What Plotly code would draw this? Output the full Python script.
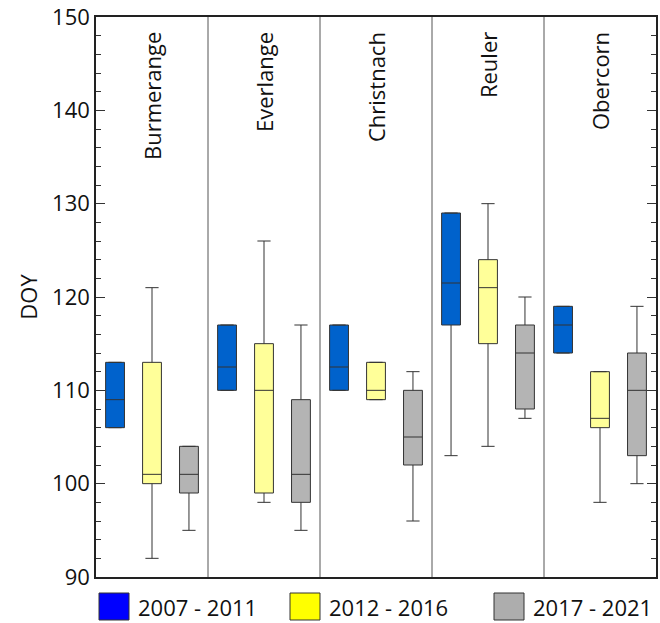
import plotly.graph_objects as go

# ---- data ----
sites = ["Burmerange", "Everlange", "Christnach", "Reuler", "Obercorn"]
periods = ["2007 - 2011", "2012 - 2016", "2017 - 2021"]

# per period: lists over sites
p1_low = [106, 110, 110, 103, 114]
p1_q1 = [106, 110, 110, 117, 114]
p1_med = [109, 112.5, 112.5, 121.5, 117]
p1_q3 = [113, 117, 117, 129, 119]
p1_high = [113, 117, 117, 129, 119]

p2_low = [92, 98, 109, 104, 98]
p2_q1 = [100, 99, 109, 115, 106]
p2_med = [101, 110, 110, 121, 107]
p2_q3 = [113, 115, 113, 124, 112]
p2_high = [121, 126, 113, 130, 112]

p3_low = [95, 95, 96, 107, 100]
p3_q1 = [99, 98, 102, 108, 103]
p3_med = [101, 101, 105, 114, 110]
p3_q3 = [104, 109, 110, 117, 114]
p3_high = [104, 117, 112, 120, 119]

y_ticks = [90, 100, 110, 120, 130, 140, 150]

box_fills = ["#0062CC", "#FFFF99", "#B4B4B4"]
legend_fills = ["#0000FF", "#FFFF00", "#ADADAD"]

stats = [
    (p1_low, p1_q1, p1_med, p1_q3, p1_high),
    (p2_low, p2_q1, p2_med, p2_q3, p2_high),
    (p3_low, p3_q1, p3_med, p3_q3, p3_high),
]

FONT = "Open Sans"
W, H = 660, 623
ML, MR, MT, MB = 96, 4, 17, 46
PW = W - ML - MR
PH = H - MT - MB

fig = go.Figure()
for name, fill, (lo, q1, med, q3, hi) in zip(periods, box_fills, stats):
    fig.add_trace(go.Box(
        name=name, x=sites, q1=q1, median=med, q3=q3,
        lowerfence=lo, upperfence=hi,
        fillcolor=fill, line=dict(color="#333333", width=1),
        whiskerwidth=0.7, showlegend=False, boxpoints=False,
        hoverinfo="skip",
    ))

shapes = []
# group separators
for i in range(len(sites) - 1):
    shapes.append(dict(type="line", xref="x", yref="paper", x0=i + 0.5, x1=i + 0.5,
                       y0=0, y1=1, line=dict(color="#555555", width=1)))

annotations = []
for s in sites:
    annotations.append(dict(x=s, y=148.6, xref="x", yref="y", text=s, textangle=-90,
                            showarrow=False, yanchor="top", xanchor="center",
                            font=dict(family=FONT, size=22, color="#111111")))


def px_x(px):
    return (px - ML) / PW


def px_y(py):
    return (H - MB - py) / PH


# custom legend
sq_left = [99, 290, 494]
for left, fill, label in zip(sq_left, legend_fills, periods):
    shapes.append(dict(type="rect", xref="paper", yref="paper",
                       x0=px_x(left), x1=px_x(left + 30), y0=px_y(620), y1=px_y(593),
                       fillcolor=fill, line=dict(color="#333333", width=1)))
    annotations.append(dict(x=px_x(left + 37), y=px_y(606.5), xref="paper", yref="paper",
                            text=label, showarrow=False, xanchor="left", yanchor="middle",
                            font=dict(family=FONT, size=22, color="#111111")))

fig.update_layout(
    width=W, height=H,
    margin=dict(l=ML, r=MR, t=MT, b=MB, autoexpand=False),
    paper_bgcolor="white", plot_bgcolor="white",
    boxmode="group", boxgap=0.01, boxgroupgap=0.49,
    shapes=shapes, annotations=annotations,
    font=dict(family=FONT, size=22, color="#111111"),
)
fig.update_xaxes(showticklabels=False, ticks="", showgrid=False, zeroline=False,
                 showline=True, linecolor="#222222", linewidth=1.5, mirror=True,
                 range=[-0.5, 4.5])
fig.update_yaxes(range=[90, 150], tickvals=y_ticks,
                 ticks="inside", ticklen=9, tickwidth=1, tickcolor="#333333",
                 minor=dict(dtick=2, ticks="inside", ticklen=5, tickcolor="#333333", tickwidth=1),
                 showgrid=False, zeroline=False, showline=True, linecolor="#222222",
                 linewidth=1.5, mirror="ticks", automargin=False,
                 tickfont=dict(family=FONT, size=22, color="#111111"),
                 title=dict(text="DOY", standoff=8, font=dict(family=FONT, size=22, color="#111111")))

fig.write_html("out.html", config={"displayModeBar": False},
               post_script="document.body.style.margin='0';")
